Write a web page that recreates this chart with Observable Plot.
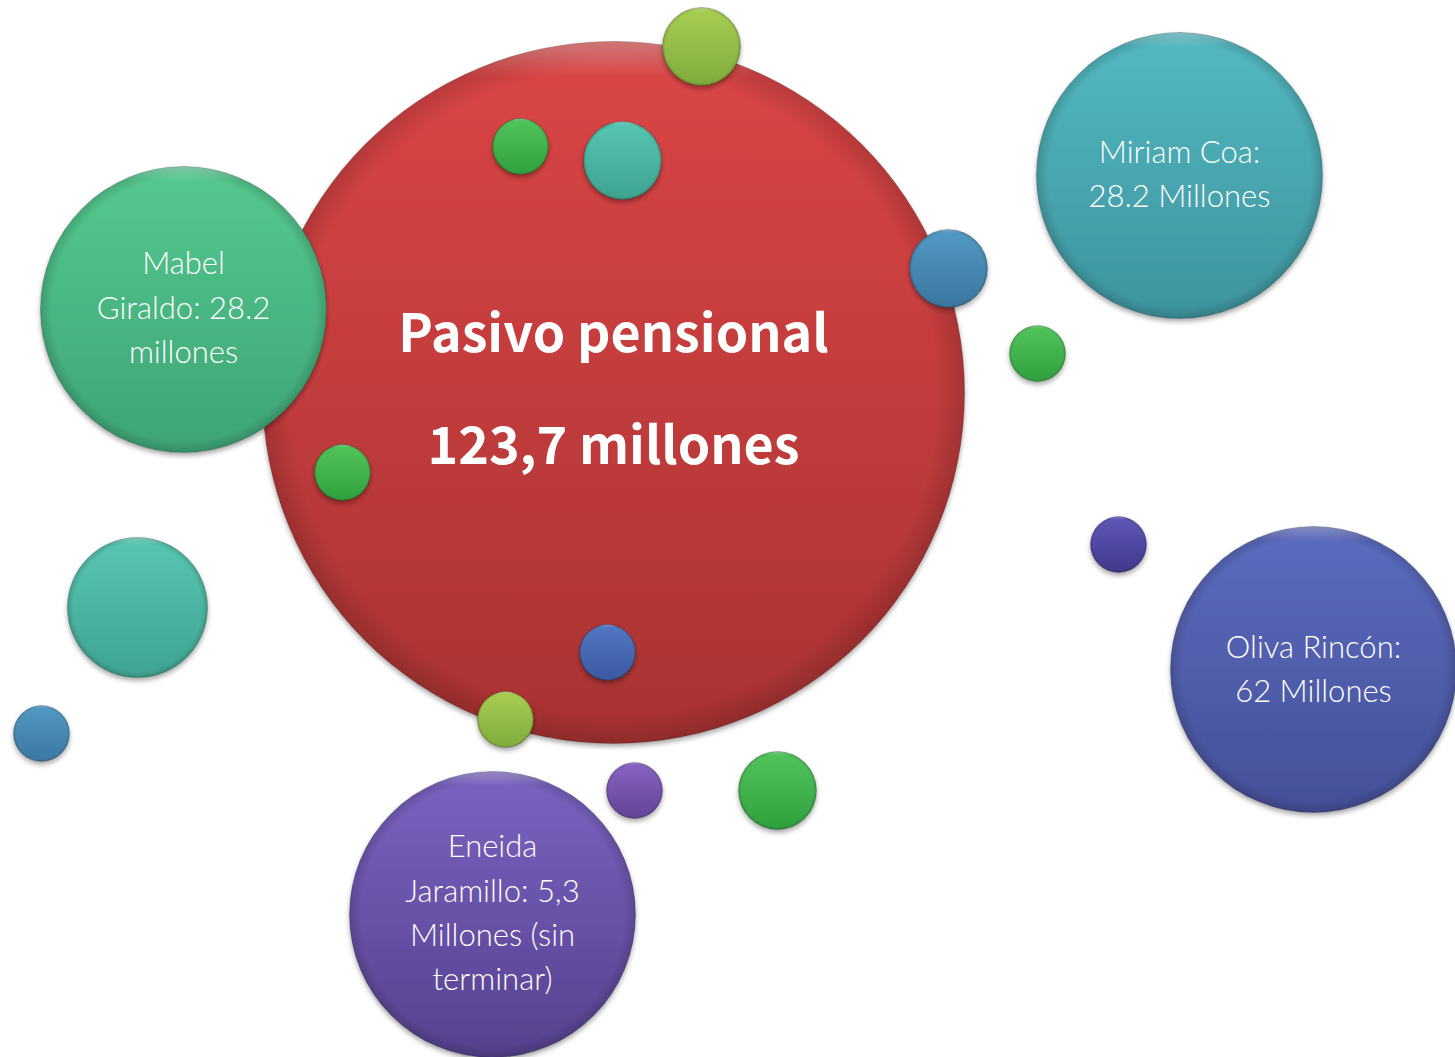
<!DOCTYPE html>
<html><head><meta charset="utf-8">
<script src="https://cdn.jsdelivr.net/npm/d3@7"></script>
<script src="https://cdn.jsdelivr.net/npm/@observablehq/plot@0.6"></script>
<style>body{margin:0;background:#fff;overflow:hidden}</style>
</head><body><div id="chart"></div>
<script>
// Bubbles (diagram coordinates in px, radius in px)
const bubbleX = [613, 183, 701, 520, 622, 948, 1037, 1179, 342, 137, 41, 1118, 1313, 607, 505, 634, 777, 492];
const bubbleY = [392, 309, 46, 146, 160, 268, 353, 175, 472, 607, 733, 544, 669, 652, 719, 790, 790, 914];
const bubbleR = [351, 143, 39, 28, 39, 39, 28, 143, 28, 70, 28, 28, 143, 28, 28, 28, 39, 143];
const bubbleTone = ["red","mabel","lime","green","teal","blue","green","miriam","green","teal","blue","indigo","oliva","royal","lime","violet","green","eneida"];

// Tone palette (top and bottom of each bubble's gradient)
const toneKeys   = ["red",    "mabel",  "lime",   "green",  "teal",   "blue",   "miriam", "indigo", "oliva",  "royal",  "violet", "eneida"];
const toneTop    = ["#dc4646","#55c98f","#a8ce52","#52c45c","#57c6b2","#5299c4","#54b9c2","#6058b8","#5c6cbf","#5478c4","#8864c2","#7b63c2"];
const toneBottom = ["#a83232","#3ea476","#80ab3c","#30a03e","#3fa391","#3b77a0","#3d939e","#40388c","#454f98","#3a58a0","#624396","#56418e"];

// Labels
const labelText = [
  "Pasivo pensional\n123,7 millones",
  "Mabel\nGiraldo: 28.2\nmillones",
  "Miriam Coa:\n28.2 Millones",
  "Oliva Rincón:\n62 Millones",
  "Eneida\nJaramillo: 5,3\nMillones (sin\nterminar)"
];
const labelX = [613, 183, 1179, 1313, 492];
const labelY = [372, 304, 170, 665, 909];
const labelMain = [true, false, false, false, false];

const bubbles = bubbleX.map((x, i) => ({x, y: bubbleY[i], r: bubbleR[i], fill: `url(#g-${bubbleTone[i]})`}));
const labels = labelText.map((t, i) => ({t, x: labelX[i], y: labelY[i], main: labelMain[i]}));

const defs = () => {
  const d = d3.create("svg:defs");
  toneKeys.forEach((k, i) => {
    const g = d.append("linearGradient").attr("id", `g-${k}`).attr("x1", 0).attr("y1", 0).attr("x2", 0).attr("y2", 1);
    g.append("stop").attr("offset", "0%").attr("stop-color", toneTop[i]);
    g.append("stop").attr("offset", "100%").attr("stop-color", toneBottom[i]);
  });
  const f = d.append("filter").attr("id", "shadow").attr("x", "-20%").attr("y", "-20%").attr("width", "140%").attr("height", "140%");
  f.append("feDropShadow").attr("dx", 0).attr("dy", 3).attr("stdDeviation", 2.5).attr("flood-color", "#000").attr("flood-opacity", 0.35);
  const h = d.append("radialGradient").attr("id", "bevel").attr("cx", "50%").attr("cy", "50%").attr("r", "50%");
  h.append("stop").attr("offset", "92%").attr("stop-color", "#000").attr("stop-opacity", 0);
  h.append("stop").attr("offset", "100%").attr("stop-color", "#000").attr("stop-opacity", 0.15);
  const t = d.append("linearGradient").attr("id", "gloss").attr("x1", 0).attr("y1", 0).attr("x2", 0).attr("y2", 1);
  t.append("stop").attr("offset", "0%").attr("stop-color", "#fff").attr("stop-opacity", 0.3);
  t.append("stop").attr("offset", "5%").attr("stop-color", "#fff").attr("stop-opacity", 0);
  return d.node();
};

const chart = Plot.plot({
  width: 1455,
  height: 1057,
  margin: 0,
  x: {domain: [0, 1455], range: [0, 1455], axis: null},
  y: {domain: [0, 1057], range: [0, 1057], axis: null},
  r: {type: "linear", domain: [0, 1000], range: [0, 1000]},
  color: {type: "identity"},
  marks: [
    defs,
    Plot.dot(bubbles, {x: "x", y: "y", r: "r", fill: "fill", stroke: "#00000030", strokeWidth: 1, sort: null, render: (index, scales, values, dims, ctx, next) => {
      const g = next(index, scales, values, dims, ctx);
      Array.from(g.querySelectorAll("circle")).forEach(c => {
        c.setAttribute("filter", "url(#shadow)");
        const b = c.cloneNode(); b.removeAttribute("filter"); b.setAttribute("fill", "url(#bevel)"); b.setAttribute("stroke", "none");
        const s = c.cloneNode(); s.removeAttribute("filter"); s.setAttribute("fill", "url(#gloss)"); s.setAttribute("stroke", "none");
        c.after(b); b.after(s);
      });
      return g;
    }}),
    Plot.text(labels.filter(d => d.main), {x: "x", y: "y", text: "t", fill: "white", fontSize: 52, fontWeight: "bold", lineHeight: 2.15, fontFamily: "'Noto Sans CJK JP', 'Noto Sans', sans-serif"}),
    Plot.text(labels.filter(d => !d.main), {x: "x", y: "y", text: "t", fill: "white", fontSize: 31, fontWeight: 300, lineHeight: 1.435, fontFamily: "Lato, 'Noto Sans', sans-serif"})
  ]
});
chart.style.background = "#fff";
document.getElementById("chart").append(chart);
</script>
</body></html>
